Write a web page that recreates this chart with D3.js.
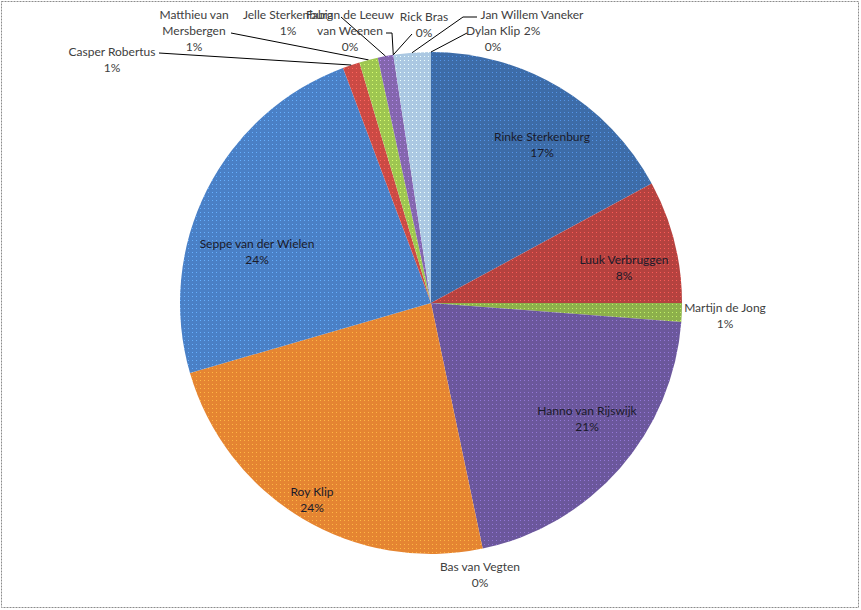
<!DOCTYPE html>
<html>
<head>
<meta charset="utf-8">
<script src="https://cdn.jsdelivr.net/npm/d3@7"></script>
<style>
  body { margin: 0; background: #fff; }
  text { font-family: Lato, "Open Sans", sans-serif; font-size: 12px; }
</style>
</head>
<body>
<div id="chart"></div>
<script>
// spelers en hun aandeel (procent), met de klok mee vanaf 12 uur
const names = ["Rinke Sterkenburg", "Luuk Verbruggen", "Martijn de Jong", "Hanno van Rijswijk",
  "Bas van Vegten", "Roy Klip", "Seppe van der Wielen", "Casper Robertus",
  "Matthieu van Mersbergen", "Jelle Sterkenburg", "Fabian de Leeuw van Weenen", "Rick Bras",
  "Jan Willem Vaneker", "Dylan Klip"];
const values = [17.1, 7.9, 1.2, 20.5, 0, 23.8, 23.8, 1.1, 1.2, 1.0, 0, 0, 2.4, 0];
const pctLabels = ["17%", "8%", "1%", "21%", "0%", "24%", "24%", "1%", "1%", "1%", "0%", "0%", "2%", "0%"];

const colors = ["#3d6ca8", "#b5423f", "#8db04b", "#6b579c", "#4bacc6", "#e58532", "#4a80c6",
  "#cb4a44", "#9ec651", "#8466ae", "#4bacc6", "#f79646", "#abc8e2", "#2c4d75"];

const width = 861, height = 610;
const cx = 431, cy = 303, radius = 251;

// label placement: lines of text, centre x, first line y, inside = dark text
const labelLayout = [
  {lines: ["Rinke Sterkenburg"], x: 542, y: 137, inside: true},
  {lines: ["Luuk Verbruggen"], x: 624, y: 260, inside: true},
  {lines: ["Martijn de Jong"], x: 725, y: 308},
  {lines: ["Hanno van Rijswijk"], x: 587, y: 411, inside: true},
  {lines: ["Bas van Vegten"], x: 480, y: 567},
  {lines: ["Roy Klip"], x: 312, y: 492, inside: true},
  {lines: ["Seppe van der Wielen"], x: 257, y: 244, inside: true},
  {lines: ["Casper Robertus"], x: 112, y: 52, leader: [[159, 53]]},
  {lines: ["Matthieu van", "Mersbergen"], x: 194, y: 15, leader: [[231, 33]]},
  {lines: ["Jelle Sterkenburg"], x: 288, y: 15, leader: [[341, 17]]},
  {lines: ["Fabian de Leeuw", "van Weenen"], x: 350, y: 15, leader: [[386, 33], [392, 33]]},
  {lines: ["Rick Bras"], x: 424, y: 17, leader: [[412, 34]]},
  {lines: ["Jan Willem Vaneker"], x: 532, y: 15, leader: [[477, 17], [463, 17]]},
  {lines: ["Dylan Klip"], x: 493, y: 31, leader: [[467, 33]]}
];

const svg = d3.select("#chart").append("svg")
  .attr("width", width)
  .attr("height", height);

// dotted texture like the original fills
const defs = svg.append("defs");
colors.forEach((c, i) => {
  const p = defs.append("pattern")
    .attr("id", "pat" + i)
    .attr("width", 4).attr("height", 4)
    .attr("patternUnits", "userSpaceOnUse");
  p.append("rect").attr("width", 4).attr("height", 4).attr("fill", c);
  p.append("rect").attr("x", 1).attr("y", 1).attr("width", 1).attr("height", 1)
    .attr("fill", d3.color(c).brighter(0.9));
});

svg.append("rect")
  .attr("x", 1.5).attr("y", 1.5)
  .attr("width", 857).attr("height", 606)
  .attr("fill", "none")
  .attr("stroke", "#8c8c8c")
  .attr("stroke-dasharray", "2,1");

const data = names.map((n, i) => ({name: n, value: values[i], pct: pctLabels[i], i: i}));

const pie = d3.pie().sort(null).value(d => d.value);
const arcs = pie(data);

const arc = d3.arc().innerRadius(0).outerRadius(radius);

const g = svg.append("g").attr("transform", `translate(${cx},${cy})`);

g.selectAll("path.slice")
  .data(arcs)
  .enter()
  .append("path")
  .attr("class", "slice")
  .attr("d", arc)
  .attr("fill", d => `url(#pat${d.data.i})`);

// leader lines from label to slice edge
arcs.forEach(a => {
  const lay = labelLayout[a.data.i];
  if (!lay.leader) return;
  const mid = (a.startAngle + a.endAngle) / 2;
  const end = [cx + radius * Math.sin(mid), cy - radius * Math.cos(mid)];
  const pts = lay.leader.concat([end]);
  svg.append("path")
    .attr("d", d3.line()(pts))
    .attr("fill", "none")
    .attr("stroke", "#000")
    .attr("stroke-width", 1);
});

// labels
arcs.forEach(a => {
  const lay = labelLayout[a.data.i];
  const t = svg.append("text")
    .attr("text-anchor", "middle")
    .attr("fill", lay.inside ? "#1a1a2a" : "#404040");
  const lines = lay.lines.concat([a.data.pct]);
  let pctX = lay.x;
  lines.forEach((ln, k) => {
    t.append("tspan")
      .attr("x", lay.x)
      .attr("y", lay.y + 16 * k + 4)
      .text(ln);
  });
});
</script>
</body>
</html>
